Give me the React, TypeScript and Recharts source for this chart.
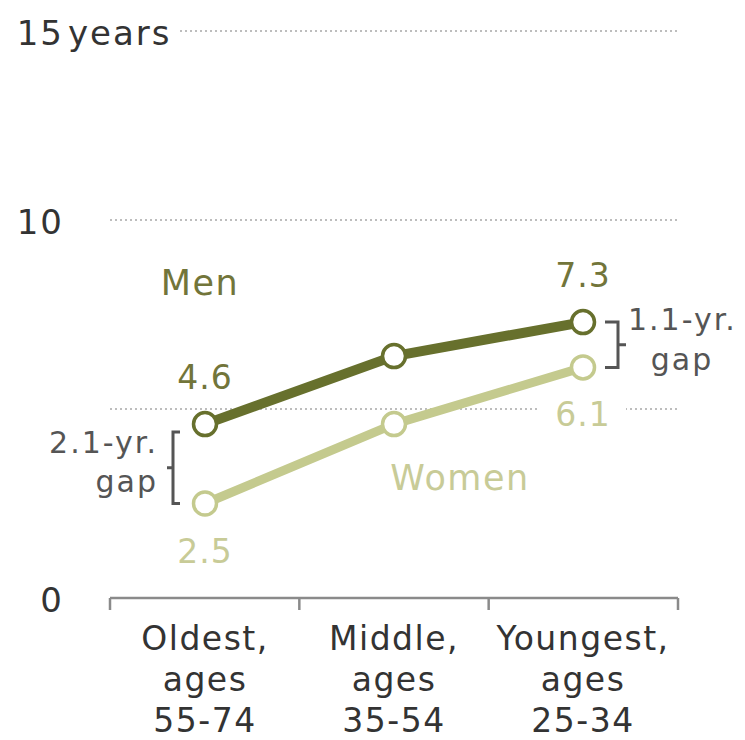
import { LineChart, Line, XAxis, YAxis, CartesianGrid, LabelList, ReferenceLine } from "recharts"

// age groups, oldest to youngest
const groups = ["Oldest", "Middle", "Youngest"]
const groupLabels = [
  ["Oldest,", "ages", "55-74"],
  ["Middle,", "ages", "35-54"],
  ["Youngest,", "ages", "25-34"],
]
const men = [4.6, 6.4, 7.3]
const women = [2.5, 4.6, 6.1]
const yTicks = [0, 5, 10, 15]
const yTickLabels = ["0", "", "10", "15"]
const yUnit = "years"
const gapLabels = ["2.1-yr.", "", "1.1-yr."]
const gapWord = "gap"

const MEN = "#67702d"
const WOMEN = "#c4ca8e"
const MEN_TEXT = "#72753a"
const WOMEN_TEXT = "#c8cb97"
const INK = "#333"
const NOTE = "#555"
const AXIS = "#8a8a8a"
const FONT = "'DejaVu Sans', sans-serif"

// slot = middle of each group's band on the frame axis
const rows = groups.map((g, i) => ({ group: g, slot: i + 0.5, men: men[i], women: women[i] }))
// band edges, where the x-axis tick marks sit
const bounds = [...groups.map((_, i) => i), groups.length]

function YTick({ x, y, payload }: any) {
  const label = yTickLabels[yTicks.indexOf(payload.value)]
  if (!label) return null
  const top = payload.value === yTicks[yTicks.length - 1]
  return (
    <g>
      {top && (
        <>
          <rect x={x + 2} y={y - 18} width={114} height={34} fill="#fff" />
          <text x={x + 4} y={y + 14} fontFamily={FONT} fontSize={34} letterSpacing={2} fill={INK}>
            {yUnit}
          </text>
        </>
      )}
      <text x={x} y={y + 14} textAnchor="end" fontFamily={FONT} fontSize={34} letterSpacing={2} fill={INK}>
        {label}
      </text>
    </g>
  )
}

function XTick({ x, y, payload }: any) {
  const lines = groupLabels[groups.indexOf(payload.value)] ?? []
  return (
    <g>
      {lines.map((t, k) => (
        <text key={k} x={x} y={y + 52 + k * 41} textAnchor="middle" fontFamily={FONT}
          fontSize={33} letterSpacing={1.5} fill={INK}>
          {t}
        </text>
      ))}
    </g>
  )
}

function BoundTick(props: any) {
  const { x1, y1, y2 } = props
  const base = Math.max(y1, y2)
  return <line x1={x1} x2={x1} y1={base} y2={base + 12} stroke={AXIS} strokeWidth={2.5} />
}

function seriesLabels(opts: {
  name: string; nameIdx: number; nameDx: number; nameDy: number
  color: string; valueDy: number; backdrop?: boolean
}) {
  return (props: any) => {
    const { x, y, value, index } = props
    const parts = []
    if (index === 0 || index === groups.length - 1) {
      const by = y + opts.valueDy
      parts.push(
        <g key="v">
          {opts.backdrop && <rect x={x - 43} y={by - 30} width={86} height={36} fill="#fff" />}
          <text x={x} y={by} textAnchor="middle" fontFamily={FONT} fontSize={33}
            letterSpacing={1} fill={opts.color}>
            {Number(value).toFixed(1)}
          </text>
        </g>
      )
    }
    if (index === opts.nameIdx) {
      parts.push(
        <text key="n" x={x + opts.nameDx} y={y + opts.nameDy} textAnchor="middle" fontFamily={FONT}
          fontSize={35} letterSpacing={1.5} fill={opts.color}>
          {opts.name}
        </text>
      )
    }
    return <g>{parts}</g>
  }
}

// bracket between the two points of one group, with the gap note beside it
function gapBracket(i: number) {
  const left = i === 0
  return (props: any) => {
    const { x1, y1, y2 } = props
    const bx = left ? x1 - 32 : x1 + 35
    const top = left ? y1 + 8 : y1
    const bot = y2
    const mid = (top + bot) / 2
    const arm = left ? 7 : -13
    const notch = left ? -6 : 8
    const d = `M${bx + arm},${top} H${bx} V${bot} H${bx + arm} M${bx},${mid} H${bx + notch}`
    return (
      <g>
        <path d={d} fill="none" stroke={NOTE} strokeWidth={3} />
        {left ? (
          <>
            <text x={bx - 15} y={mid - 15} textAnchor="end" fontFamily={FONT} fontSize={30} letterSpacing={2} fill={NOTE}>
              {gapLabels[i]}
            </text>
            <text x={bx - 15} y={mid + 24} textAnchor="end" fontFamily={FONT} fontSize={30} letterSpacing={2} fill={NOTE}>
              {gapWord}
            </text>
          </>
        ) : (
          <>
            <text x={bx + 10} y={mid - 15} fontFamily={FONT} fontSize={30} letterSpacing={2} fill={NOTE}>
              {gapLabels[i]}
            </text>
            <text x={bx + 64} y={mid + 25} textAnchor="middle" fontFamily={FONT} fontSize={30} letterSpacing={2} fill={NOTE}>
              {gapWord}
            </text>
          </>
        )}
      </g>
    )
  }
}

export default function App() {
  return (
    <div style={{ position: "absolute", left: 0, top: 0, background: "#fff" }}>
      <LineChart width={745} height={740} data={rows} margin={{ top: 31, right: 67, bottom: 0, left: 0 }}>
        <CartesianGrid vertical={false} stroke="#bdbdbd" strokeDasharray="2 3" strokeWidth={2} />
        <XAxis
          xAxisId="frame"
          dataKey="slot"
          type="number"
          domain={[0, groups.length]}
          allowDataOverflow
          ticks={bounds}
          hide
        />
        <XAxis
          xAxisId="cat"
          dataKey="group"
          padding={{ left: 95, right: 95 }}
          height={142}
          axisLine={false}
          tickLine={false}
          tickSize={0}
          tickMargin={0}
          interval={0}
          tick={<XTick />}
        />
        <YAxis
          domain={[0, 15]}
          ticks={yTicks}
          width={110}
          axisLine={false}
          tickLine={false}
          tickSize={0}
          tickMargin={46}
          tick={<YTick />}
        />
        <ReferenceLine xAxisId="frame" y={0} stroke={AXIS} strokeWidth={2.5} />
        {bounds.map((b) => (
          <ReferenceLine key={`b${b}`} xAxisId="frame" x={b} ifOverflow="visible" shape={BoundTick} />
        ))}
        {[0, groups.length - 1].map((i) => (
          <ReferenceLine
            key={i}
            xAxisId="cat"
            segment={[{ x: groups[i], y: men[i] }, { x: groups[i], y: women[i] }]}
            shape={gapBracket(i)}
          />
        ))}
        <Line
          xAxisId="cat"
          type="linear"
          dataKey="men"
          stroke={MEN}
          strokeWidth={10}
          strokeLinejoin="round"
          dot={{ r: 11.5, fill: "#fff", stroke: MEN, strokeWidth: 3.5 }}
          activeDot={false}
          isAnimationActive={false}
        >
          <LabelList dataKey="men" content={seriesLabels({ name: "Men", nameIdx: 0, nameDx: -5, nameDy: -129, color: MEN_TEXT, valueDy: -35 })} />
        </Line>
        <Line
          xAxisId="cat"
          type="linear"
          dataKey="women"
          stroke={WOMEN}
          strokeWidth={9}
          strokeLinejoin="round"
          dot={{ r: 11.5, fill: "#fff", stroke: WOMEN, strokeWidth: 3.5 }}
          activeDot={false}
          isAnimationActive={false}
        >
          <LabelList dataKey="women" content={seriesLabels({ name: "Women", nameIdx: 1, nameDx: 66, nameDy: 66, color: WOMEN_TEXT, valueDy: 59, backdrop: true })} />
        </Line>
      </LineChart>
    </div>
  )
}
